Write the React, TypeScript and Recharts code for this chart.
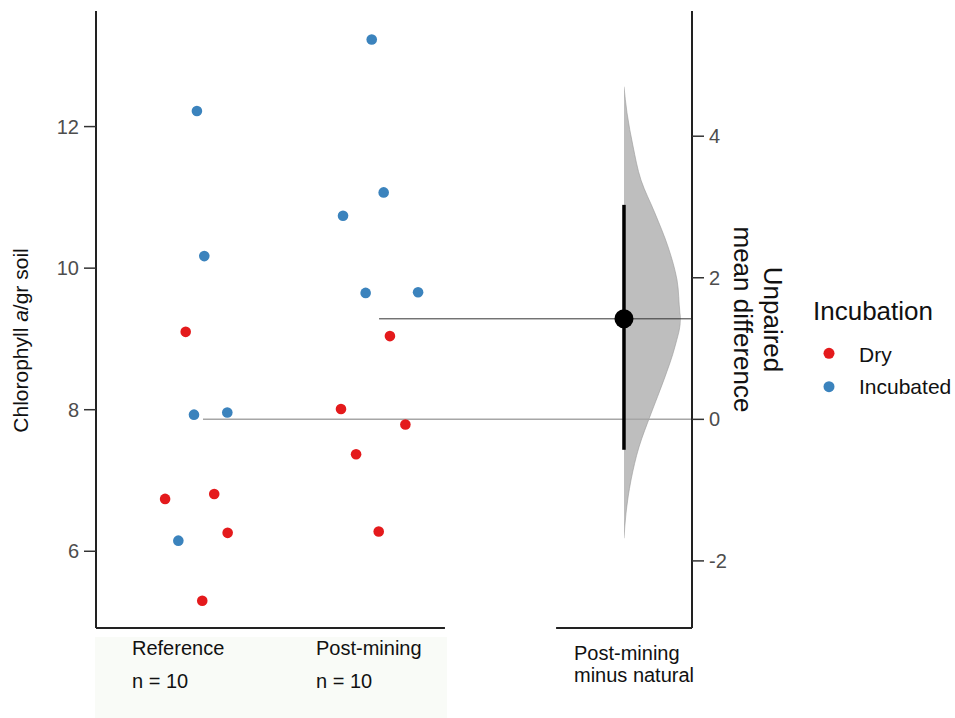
import React from 'react';
import { ComposedChart, Scatter, Area, XAxis, YAxis, ReferenceLine, Legend, Label } from 'recharts';

// raw values
const groups = ['Reference', 'Post-mining'];
const diffLabel = ['Post-mining', 'minus natural'];

const refValues = [12.22, 10.17, 9.1, 7.93, 7.96, 6.74, 6.81, 6.15, 6.26, 5.3];
const refIncubation = ['Incubated', 'Incubated', 'Dry', 'Incubated', 'Incubated', 'Dry', 'Dry', 'Incubated', 'Dry', 'Dry'];
const refJitter = [0.005, 0.045, -0.056, -0.011, 0.17, -0.168, 0.099, -0.096, 0.172, 0.034];

const pmValues = [13.23, 11.07, 10.74, 9.65, 9.66, 9.04, 8.01, 7.79, 7.37, 6.28];
const pmIncubation = ['Incubated', 'Incubated', 'Incubated', 'Incubated', 'Incubated', 'Dry', 'Dry', 'Dry', 'Dry', 'Dry'];
const pmJitter = [-0.045, 0.02, -0.201, -0.078, 0.207, 0.054, -0.212, 0.138, -0.13, -0.007];

// bootstrap distribution of the mean difference (half violin)
const bootDiff = [-1.68, -1.33, -0.86, -0.39, 0.08, 0.56, 1.03, 1.43, 1.5, 1.97, 2.44, 2.91, 3.38, 3.86, 4.33, 4.7];
const bootDensity = [0, 0.035, 0.123, 0.265, 0.476, 0.705, 0.9, 1, 0.988, 0.935, 0.776, 0.547, 0.3, 0.159, 0.053, 0];
const ciLow = -0.43;
const ciHigh = 3.03;

const leftTicks = [6, 8, 10, 12];
const rightTicks = [-2, 0, 2, 4];

const RED = '#e41a1c';
const BLUE = '#3b83bd';
const FONT = '"Liberation Sans", Arial, sans-serif';

const mean = (a: number[]) => a.reduce((s, v) => s + v, 0) / a.length;
const refMean = mean(refValues);
const pmMean = mean(pmValues);
const meanDiff = pmMean - refMean;

// x layout in category units
const groupX = [1, 2];
const diffX = 3.326;
const xDomain: [number, number] = [0.4565, 3.6957];
const yDomain: [number, number] = [4.916, 13.633];
const diffDomain: [number, number] = [yDomain[0] - refMean, yDomain[1] - refMean];

const points = [
  ...refValues.map((v, i) => ({ x: groupX[0] + refJitter[i], y: v, inc: refIncubation[i] })),
  ...pmValues.map((v, i) => ({ x: groupX[1] + pmJitter[i], y: v, inc: pmIncubation[i] })),
];
const dryPts = points.filter((p) => p.inc === 'Dry');
const incPts = points.filter((p) => p.inc === 'Incubated');
const counts = [refValues.length, pmValues.length];

const densityData = bootDiff.map((d, i) => ({ d, w: bootDensity[i] }));

const Dot = (r: number) => (props: any) => <circle cx={props.cx} cy={props.cy} r={r} fill={props.fill} />;

const XTick = (props: any) => {
  const { x, y, payload } = props;
  if (payload.value === diffX) {
    return (
      <text x={x - 50} y={y + 32} fontSize={20} fill="#111">
        <tspan x={x - 50}>{diffLabel[0]}</tspan>
        <tspan x={x - 50} dy={22}>{diffLabel[1]}</tspan>
      </text>
    );
  }
  const idx = groupX.indexOf(payload.value);
  return (
    <g>
      <text x={x - 64} y={y + 27} fontSize={20} fill="#111">{groups[idx]}</text>
      <text x={x - 64} y={y + 60} fontSize={20} fill="#111">{`n = ${counts[idx]}`}</text>
    </g>
  );
};

const LeftLabel = (props: any) => {
  const vb = props.viewBox || { x: 0, y: 11, width: 96, height: 617 };
  const cx = vb.x + 28;
  const cy = vb.y + vb.height / 2 + 21;
  return (
    <text x={cx} y={cy} transform={`rotate(-90, ${cx}, ${cy})`} textAnchor="middle" fontSize={21} fill="#111">
      Chlorophyll <tspan fontStyle="italic">a</tspan>/gr soil
    </text>
  );
};

const RightLabel = (props: any) => {
  const vb = props.viewBox || { x: 692, y: 11, width: 60, height: 617 };
  const cx = vb.x + 72;
  const cy = vb.y + vb.height / 2;
  return (
    <text x={cx} y={cy} transform={`rotate(90, ${cx}, ${cy})`} textAnchor="middle" fontSize={26} fill="#111">
      <tspan x={cx}>Unpaired</tspan>
      <tspan x={cx} dy={30}>mean difference</tspan>
    </text>
  );
};

const renderLegend = (props: any) => {
  const items = (props.payload || []).filter((p: any) => p.type !== 'none');
  return (
    <svg width={144} height={112} style={{ fontFamily: FONT }}>
      <text x={2} y={30} fontSize={26} fill="#111">Incubation</text>
      {items.map((it: any, i: number) => (
        <g key={it.value}>
          <circle cx={18} cy={63.3 + i * 33.4} r={5.5} fill={it.color} />
          <text x={48} y={71.5 + i * 32.5} fontSize={21} fill="#111">{it.value}</text>
        </g>
      ))}
    </svg>
  );
};

const axisLine = { stroke: '#222', strokeWidth: 2 };
const tickLine = { stroke: '#333', strokeWidth: 1.5 };
const tickStyle = { fill: '#4d4d4d', fontSize: 20 };

export default function App() {
  return (
    <div style={{ position: 'absolute', left: 0, top: 0, width: 955, height: 718, fontFamily: FONT, background: '#fff' }}>
      <div style={{ position: 'absolute', left: 95, top: 637, width: 352, height: 81, background: '#f9fbf7' }} />
      <div style={{ position: 'absolute', left: 0, top: 0 }}>
        <ComposedChart
          layout="vertical"
          width={955}
          height={718}
          data={densityData}
          margin={{ top: 11, right: 274.3, bottom: 90, left: 624 }}
        >
          <XAxis type="number" hide domain={[0, 1]} allowDataOverflow />
          <YAxis type="number" dataKey="d" hide reversed domain={diffDomain} allowDataOverflow />
          <Area
            dataKey="w"
            type="monotone"
            baseValue={0}
            fill="#bebebe"
            fillOpacity={1}
            stroke="#9a9a9a"
            strokeWidth={0.6}
            isAnimationActive={false}
          />
        </ComposedChart>
      </div>
      <div style={{ position: 'absolute', left: 0, top: 0 }}>
        <ComposedChart width={955} height={718} margin={{ top: 11, right: 203, bottom: 0, left: 0 }}>
          <XAxis
            type="number"
            dataKey="x"
            domain={xDomain}
            ticks={[groupX[0], groupX[1], diffX]}
            interval={0}
            height={90}
            axisLine={false}
            tickLine={false}
            tickSize={0}
            tickMargin={0}
            tick={<XTick />}
            allowDataOverflow
          />
          <YAxis
            yAxisId="left"
            type="number"
            dataKey="y"
            domain={yDomain}
            ticks={leftTicks}
            width={96}
            axisLine={axisLine}
            tickLine={tickLine}
            tickSize={12}
            tickMargin={5}
            tick={tickStyle}
            allowDataOverflow
          >
            <Label content={<LeftLabel />} />
          </YAxis>
          <YAxis
            yAxisId="right"
            orientation="right"
            type="number"
            dataKey="y"
            domain={diffDomain}
            ticks={rightTicks}
            width={60}
            axisLine={axisLine}
            tickLine={tickLine}
            tickSize={12}
            tickMargin={5}
            tick={tickStyle}
            allowDataOverflow
          >
            <Label content={<RightLabel />} />
          </YAxis>
          <Legend
            layout="vertical"
            align="center"
            verticalAlign="middle"
            content={renderLegend}
            wrapperStyle={{ position: 'absolute', left: 811, top: 290, width: 144 }}
          />
          {/* split bottom axis */}
          <ReferenceLine
            yAxisId="left"
            segment={[{ x: xDomain[0], y: yDomain[0] }, { x: 2.353, y: yDomain[0] }]}
            stroke="#222"
            strokeWidth={2}
            ifOverflow="visible"
          />
          <ReferenceLine
            yAxisId="left"
            segment={[{ x: 2.957, y: yDomain[0] }, { x: xDomain[1], y: yDomain[0] }]}
            stroke="#222"
            strokeWidth={2}
            ifOverflow="visible"
          />
          {/* group means carried across to the difference axis */}
          <ReferenceLine
            yAxisId="left"
            segment={[{ x: 1.038, y: refMean }, { x: xDomain[1], y: refMean }]}
            stroke="#a6a6a6"
            strokeWidth={1.5}
            ifOverflow="visible"
          />
          <ReferenceLine
            yAxisId="left"
            segment={[{ x: 1.995, y: pmMean }, { x: xDomain[1], y: pmMean }]}
            stroke="#333"
            strokeWidth={1}
            ifOverflow="visible"
          />
          <Scatter yAxisId="left" name="Dry" data={dryPts} fill={RED} shape={Dot(5.3)} isAnimationActive={false} />
          <Scatter yAxisId="left" name="Incubated" data={incPts} fill={BLUE} shape={Dot(5.3)} isAnimationActive={false} />
          <ReferenceLine
            yAxisId="right"
            segment={[{ x: diffX, y: ciLow }, { x: diffX, y: ciHigh }]}
            stroke="#000"
            strokeWidth={3.5}
            ifOverflow="visible"
          />
          <Scatter
            yAxisId="right"
            name="diff"
            legendType="none"
            data={[{ x: diffX, y: meanDiff }]}
            fill="#000"
            shape={Dot(9.5)}
            isAnimationActive={false}
          />
        </ComposedChart>
      </div>
    </div>
  );
}
